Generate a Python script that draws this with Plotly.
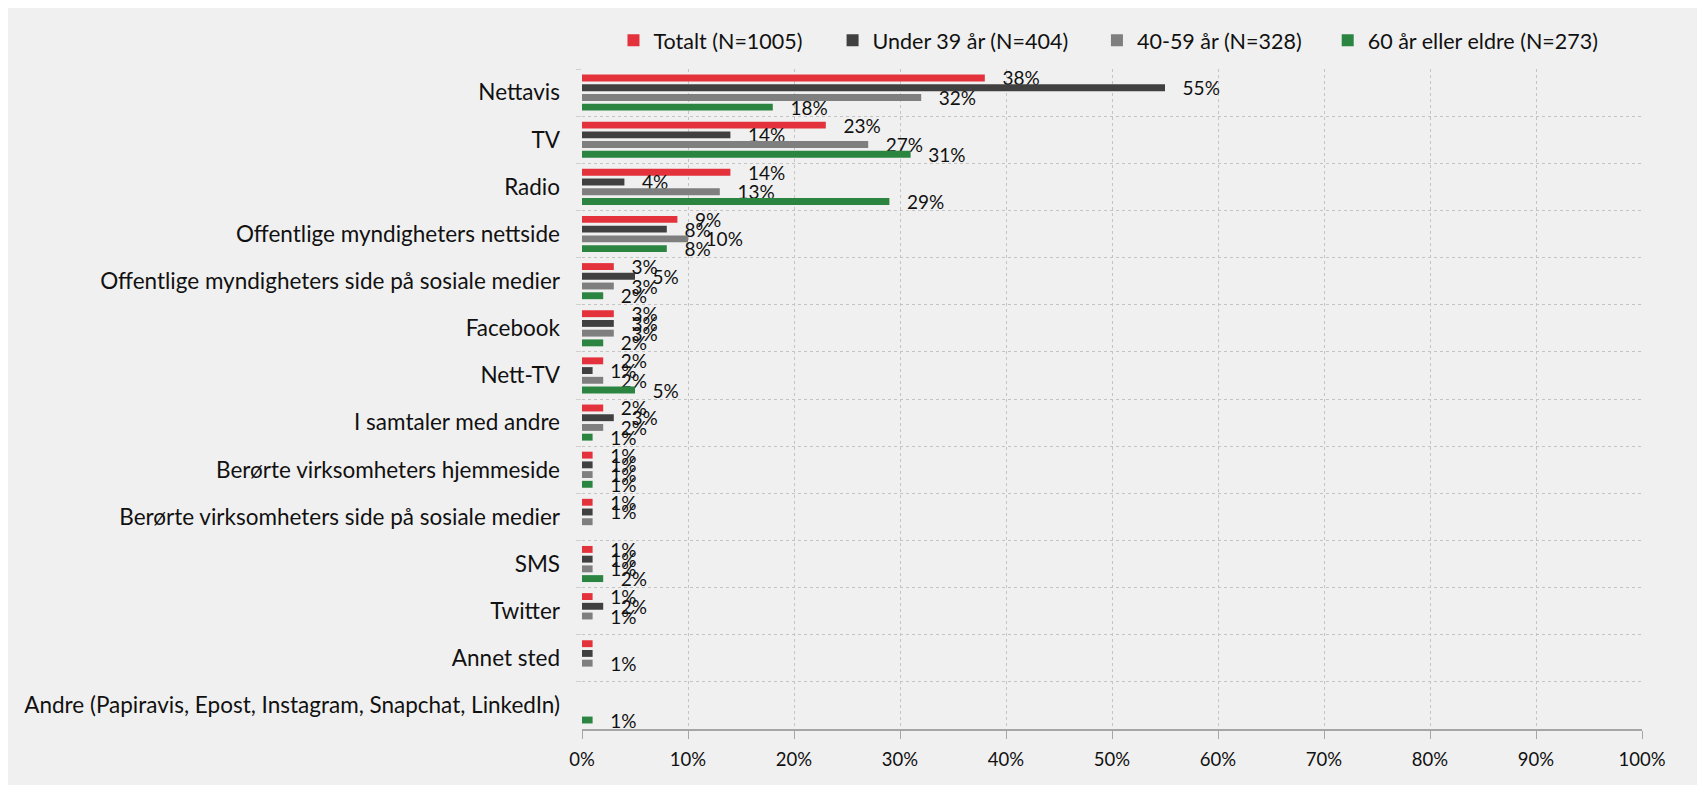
import plotly.graph_objects as go

categories = [
    "Nettavis",
    "TV",
    "Radio",
    "Offentlige myndigheters nettside",
    "Offentlige myndigheters side på sosiale medier",
    "Facebook",
    "Nett-TV",
    "I samtaler med andre",
    "Berørte virksomheters hjemmeside",
    "Berørte virksomheters side på sosiale medier",
    "SMS",
    "Twitter",
    "Annet sted",
    "Andre (Papiravis, Epost, Instagram, Snapchat, LinkedIn)",
]

series_names = [
    "Totalt (N=1005)",
    "Under 39 år (N=404)",
    "40-59 år (N=328)",
    "60 år eller eldre (N=273)",
]

totalt = [38, 23, 14, 9, 3, 3, 2, 2, 1, 1, 1, 1, 1, None]
under39 = [55, 14, 4, 8, 5, 3, 1, 3, 1, 1, 1, 2, 1, None]
age40_59 = [32, 27, 13, 10, 3, 3, 2, 2, 1, 1, 1, 1, 1, None]
age60 = [18, 31, 29, 8, 2, 2, 5, 1, 1, None, 2, None, None, 1]

# data labels as shown (some labels are absent in the original)
totalt_labels = ["38%", "23%", "14%", "9%", "3%", "3%", "2%", "2%", "1%", "1%", "1%", "1%", "", ""]
under39_labels = ["55%", "14%", "4%", "8%", "5%", "3%", "1%", "3%", "1%", "1%", "1%", "2%", "", ""]
age40_59_labels = ["32%", "27%", "13%", "10%", "3%", "3%", "2%", "2%", "1%", "", "1%", "1%", "1%", ""]
age60_labels = ["18%", "31%", "29%", "8%", "2%", "2%", "5%", "1%", "1%", "", "2%", "", "", "1%"]

colors = ["#e4323c", "#404040", "#7f7f7f", "#2b8540"]
legend_ids = ["legend", "legend2", "legend3", "legend4"]
legend_x = [0.0297, 0.2364, 0.4858, 0.7035]

FONT = "Lato, 'Open Sans', sans-serif"
TXT = "#111111"
PAD = "\u00a0\u00a0\u00a0"

fig = go.Figure()
for name, vals, labs, col, lid in zip(
    series_names,
    [totalt, under39, age40_59, age60],
    [totalt_labels, under39_labels, age40_59_labels, age60_labels],
    colors,
    legend_ids,
):
    fig.add_trace(go.Bar(
        name=name,
        y=categories,
        x=vals,
        orientation="h",
        legend=lid,
        marker=dict(color=col, line=dict(width=0)),
        text=[(PAD + l) if l else "" for l in labs],
        textposition="outside",
        constraintext="none",
        cliponaxis=False,
        textfont=dict(family=FONT, size=19, color=TXT),
        hoverinfo="skip",
    ))

# page body adds an 8px offset, so the figure is 8px smaller than the window
W, H = 1697, 777
L, T = 574, 57
pw, ph = 1060, 664
R, B = W - L - pw, H - T - ph

legend_style = dict(
    orientation="h",
    xanchor="left",
    y=1 + (T - 28) / ph, yanchor="middle",
    font=dict(family=FONT, size=21.5, color=TXT),
    bgcolor="rgba(0,0,0,0)",
    itemclick=False,
    itemdoubleclick=False,
)

fig.update_layout(
    width=W, height=H,
    margin=dict(l=L, r=R, t=T, b=B),
    paper_bgcolor="#f0f0f0",
    plot_bgcolor="#f0f0f0",
    barmode="group",
    bargap=0.175,
    bargroupgap=0.29,
    font=dict(family=FONT, size=19, color=TXT),
    showlegend=True,
    xaxis=dict(
        range=[0, 100],
        dtick=10,
        ticksuffix="%",
        showgrid=True,
        gridcolor="#c4c4c4",
        griddash="dot",
        gridwidth=1,
        zeroline=False,
        showline=True,
        linecolor="#a6a6a6",
        linewidth=2,
        ticks="outside",
        ticklen=8,
        tickcolor="#a6a6a6",
        tickwidth=1,
        ticklabelstandoff=5,
        tickfont=dict(family=FONT, size=18.5, color=TXT),
        fixedrange=True,
    ),
    yaxis=dict(
        autorange="reversed",
        type="category",
        tickson="boundaries",
        showgrid=True,
        gridcolor="#c4c4c4",
        griddash="dot",
        gridwidth=1,
        showline=False,
        ticks="outside",
        ticklen=5,
        tickcolor="#d0d0d0",
        ticklabelstandoff=21,
        tickfont=dict(family=FONT, size=22.5, color=TXT),
        fixedrange=True,
    ),
)
for lid, lx in zip(legend_ids, legend_x):
    fig.update_layout({lid: dict(legend_style, x=lx)})

fig.write_html("out.html")
